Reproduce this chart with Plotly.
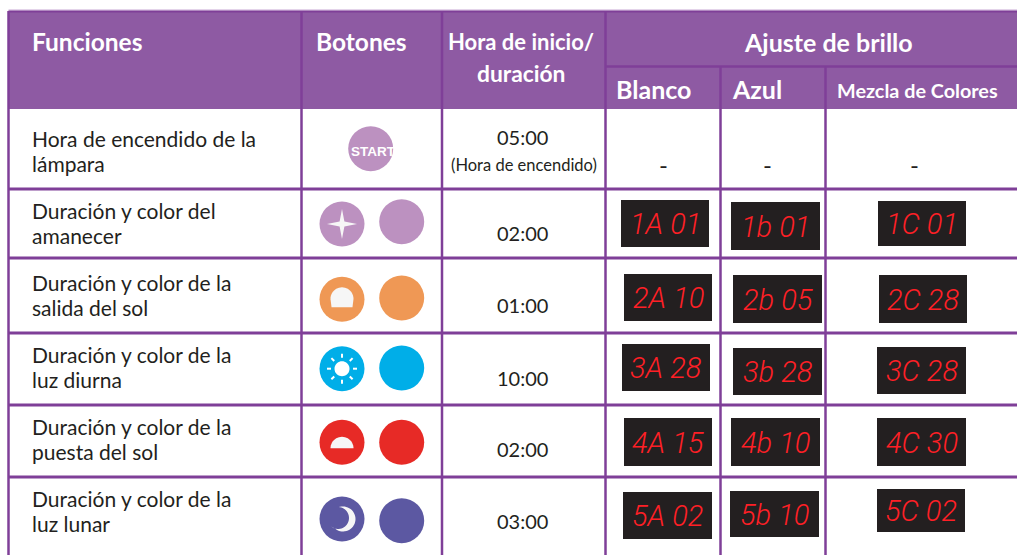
import math
import plotly.graph_objects as go

W, H = 1017, 555
# ---- table content
functions = [["Hora de encendido de la", "lámpara"],
             ["Duración y color del", "amanecer"],
             ["Duración y color de la", "salida del sol"],
             ["Duración y color de la", "luz diurna"],
             ["Duración y color de la", "puesta del sol"],
             ["Duración y color de la", "luz lunar"]]
times = ["05:00", "02:00", "01:00", "10:00", "02:00", "03:00"]
time_note = "(Hora de encendido)"
blanco = ["1A 01", "2A 10", "3A 28", "4A 15", "5A 02"]
azul = ["1b 01", "2b 05", "3b 28", "4b 10", "5b 10"]
mezcla = ["1C 01", "2C 28", "3C 28", "4C 30", "5C 02"]
button_colors = ["#bc91c0", "#ef9855", "#00aee8", "#e72a26", "#5c58a2"]

# ---- layout geometry
LINE = "#7f3f98"; HEAD = "#8e5aa3"; INK = "#231f20"
col_x = [8.5, 301.5, 442, 605.5, 720.5, 825.5]
row_y = [109, 189, 258, 333, 405, 477]
line_y = [(138, 163), (210, 235), (282, 307), (354, 379), (426, 451), (498, 523)]
time_y = [137, 233, 305, 378, 449, 521]
left_btn = [(342, 224), (342, 299.3), (342, 368.7), (342, 442.3), (342, 519)]
right_btn = [(401.7, 221.7), (401.7, 298), (401.7, 368), (401.7, 442.3), (401.7, 520.7)]
boxes = {
    "A": [(621, 709, 200, 247), (624, 712, 274, 321), (622, 710, 344, 391), (624, 712, 418, 466), (623, 712, 492, 539)],
    "b": [(731, 820, 202, 250), (733, 822, 275, 323), (733, 822, 348, 395), (731, 820, 418, 466), (730, 819, 491, 537)],
    "C": [(878, 966, 201, 246), (879, 967, 275, 323), (877, 966, 347, 394), (877, 966, 418, 466), (877, 965, 489, 532)],
}

shapes, ann = [], []
def rect(x0, x1, y0, y1, fill):
    shapes.append(dict(type="rect", x0=x0, x1=x1, y0=y0, y1=y1, fillcolor=fill, line_width=0, layer="below"))
def seg(x0, y0, x1, y1, width=3, color=LINE):
    shapes.append(dict(type="line", x0=x0, y0=y0, x1=x1, y1=y1, line=dict(color=color, width=width), layer="below"))
def label(x, y, s, size=20, color=INK, anchor="left", family="Lato", weight=400, style="normal"):
    ann.append(dict(x=x, y=y, text=s, showarrow=False, xanchor=anchor, yanchor="middle", borderpad=0,
                    font=dict(size=size, color=color, family=family, weight=weight, style=style)))

# header and grid
rect(col_x[0], W, 11, row_y[0], HEAD)
seg(col_x[0], 10, W, 10, 1, "#c9a9d4")
seg(col_x[0], 11.5, W, 11.5, 2)
seg(col_x[3], 66.5, W, 66.5, 2.5)
for y in row_y[1:]:
    seg(col_x[0], y, W, y)
for i, x in enumerate(col_x):
    top = 66.5 if i >= 4 else 11
    seg(x, top, x, H, 2.5)

# header text
for x, y, s, a, sz in [(30.5, 41, "Funciones", "left", 24.5), (314.5, 41, "Botones", "left", 24.5),
                       (521, 41, "Hora de inicio/", "center", 22), (521, 73, "duración", "center", 22.8),
                       (828.5, 42, "Ajuste de brillo", "center", 25), (614.5, 89, "Blanco", "left", 25),
                       (730.5, 89, "Azul", "left", 25), (835.5, 90, "Mezcla de Colores", "left", 19.8)]:
    label(x, y, s, sz, "white", a, weight=700)

# body text
for (a, b), (y0, y1) in zip(functions, line_y):
    label(31, y0, a, 21); label(31, y1, b, 21)
for t, y in zip(times, time_y):
    label(522, y, t, 20, anchor="center")
label(524, 165, time_note, 16.5, anchor="center")
for x in (663, 767, 914):
    label(x, 164, "-", 24, anchor="center")

# START button
fig = go.Figure()
fig.add_trace(go.Scatter(x=[370.7], y=[148.7], mode="markers", marker=dict(size=45, color=button_colors[0], line_width=0), hoverinfo="skip"))
label(373.5, 151, "START", 13.5, "white", "center", "Liberation Sans", 700)

# round buttons
for pts in (left_btn, right_btn):
    fig.add_trace(go.Scatter(x=[p[0] for p in pts], y=[p[1] for p in pts], mode="markers",
                             marker=dict(size=45, color=button_colors, line_width=0), hoverinfo="skip"))

def path(points, close=True):
    return "M" + " L".join(f"{x:.2f},{y:.2f}" for x, y in points) + (" Z" if close else "")
def icon(points, fill="#f6f6f6"):
    shapes.append(dict(type="path", path=path(points), fillcolor=fill, line_width=0, layer="above"))

# star
cx, cy = left_btn[0]
star = []
for k in range(8):
    r = 15 if k % 2 == 0 else 3.4
    a = math.pi / 4 * k
    star.append((cx + r * math.cos(a), cy + r * math.sin(a)))
icon(star)
# sunrise dome
cx, cy = left_btn[1]
d = [(cx - 10.5, cy + 8), (cx - 11.5, cy)]
d += [(cx + 11.5 * math.cos(t), cy - 0.5 + 11.5 * math.sin(t)) for t in [math.pi + i * math.pi / 24 for i in range(25)]]
d += [(cx + 10.5, cy + 8)]
icon(d)
# sun
cx, cy = left_btn[2]
icon([(cx + 7.5 * math.cos(i * math.pi / 18), cy + 7.5 * math.sin(i * math.pi / 18)) for i in range(36)], "white")
for k in range(8):
    a = k * math.pi / 4
    shapes.append(dict(type="line", x0=cx + 11 * math.cos(a), y0=cy + 11 * math.sin(a), x1=cx + 15 * math.cos(a), y1=cy + 15 * math.sin(a),
                       line=dict(color="white", width=2), layer="above"))
# sunset dome
cx, cy = left_btn[3]
icon([(cx + 11.5 * math.cos(t), cy + 6 + 11.5 * math.sin(t)) for t in [math.pi + i * math.pi / 24 for i in range(25)]])
# moon
cx, cy = left_btn[4]
outer = [(cx + 1 + 12.5 * math.cos(t), cy + 12.5 * math.sin(t)) for t in [-1.7 + i * 3.9 / 30 for i in range(31)]]
inner = [(cx - 4 + 11 * math.cos(t), cy - 1 + 11 * math.sin(t)) for t in [2.25 - i * 3.75 / 30 for i in range(31)]]
icon(outer + inner)

# LED displays
for key, vals in zip("AbC", (blanco, azul, mezcla)):
    for (x0, x1, y0, y1), s in zip(boxes[key], vals):
        rect(x0, x1, y0, y1, "#231f20")
        label((x0 + x1) / 2, (y0 + y1) / 2 + 0.5, s, 29, "#ff1f26", "center", "Roboto", 300, "italic")

fig.update_layout(width=W, height=H, margin=dict(l=0, r=0, t=0, b=0), showlegend=False,
                  paper_bgcolor="white", plot_bgcolor="white", shapes=shapes, annotations=ann,
                  xaxis=dict(range=[0, W], visible=False, fixedrange=True),
                  yaxis=dict(range=[H, 0], visible=False, fixedrange=True))
fig.write_html("out.html", config=dict(displayModeBar=False),
               post_script="document.body.style.margin='0';document.body.style.overflow='hidden';")
